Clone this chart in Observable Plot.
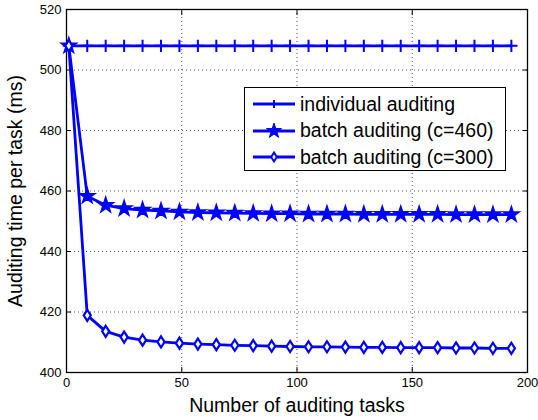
<!DOCTYPE html>
<html>
<head>
<meta charset="utf-8">
<script src="https://cdn.jsdelivr.net/npm/d3@7"></script>
<script src="https://cdn.jsdelivr.net/npm/@observablehq/plot@0.6"></script>
<style>
  body { margin: 0; background: #fff; font-family: "Liberation Sans", Arial, sans-serif; }
  #wrap { position: relative; width: 538px; height: 420px; }
  #legend { position: absolute; left: 244px; top: 87px; width: 262px; height: 84px; border: 1px solid #000; background: #fff; box-sizing: border-box; font-size: 19.5px; }
  #legend .row { position: absolute; left: 0; height: 26px; display: flex; align-items: center; white-space: nowrap; }
  #legend svg { margin-left: 8px; margin-right: 5px; }
</style>
</head>
<body>
<div id="wrap"></div>
<script>
const tasks = [1, 9, 17, 25, 33, 41, 49, 57, 65, 73, 81, 89, 97, 105, 113, 121, 129, 137, 145, 153, 161, 169, 177, 185, 193];
const individual = [508, 508, 508, 508, 508, 508, 508, 508, 508, 508, 508, 508, 508, 508, 508, 508, 508, 508, 508, 508, 508, 508, 508, 508, 508];
const batch460 = [508, 458.3, 455.3, 454.2, 453.7, 453.4, 453.1, 452.9, 452.8, 452.7, 452.6, 452.5, 452.5, 452.4, 452.4, 452.4, 452.3, 452.3, 452.3, 452.3, 452.3, 452.2, 452.2, 452.2, 452.2];
const batch300 = [508, 418.9, 413.6, 411.7, 410.7, 410.1, 409.7, 409.4, 409.2, 409.0, 408.9, 408.7, 408.6, 408.5, 408.5, 408.4, 408.3, 408.3, 408.2, 408.2, 408.2, 408.1, 408.1, 408.0, 408.0];
const seriesNames = ["individual auditing", "batch auditing (c=460)", "batch auditing (c=300)"];
const xTicks = [0, 50, 100, 150, 200];
const yTicks = [400, 420, 440, 460, 480, 500, 520];

const blue = "#0000ff";
const mk = (vals, name) => tasks.map((t, i) => ({x: t, y: vals[i], s: name}));
const d1 = mk(individual, seriesNames[0]);
const d2 = mk(batch460, seriesNames[1]);
const d3s = mk(batch300, seriesNames[2]);

// MATLAB-style tall diamond symbol
const tallDiamond = {
  draw(context, size) {
    const r = Math.sqrt(size) / 2;
    const w = r * 0.8, h = r * 1.25;
    context.moveTo(0, -h); context.lineTo(w, 0); context.lineTo(0, h); context.lineTo(-w, 0); context.closePath();
  }
};

const font = "Liberation Sans, Arial, sans-serif";
const lw = 2.8;
const chart = Plot.plot({
  width: 538, height: 420,
  marginLeft: 66, marginRight: 11, marginTop: 9, marginBottom: 48,
  style: {fontFamily: font, fontSize: "13px", color: "#000", background: "#fff"},
  x: {domain: [0, 200]},
  y: {domain: [400, 520]},
  marks: [
    Plot.gridX(xTicks.slice(1, -1), {stroke: "#000", strokeOpacity: 0.7, strokeDasharray: "1,3", strokeWidth: 1}),
    Plot.gridY(yTicks.slice(1, -1), {stroke: "#000", strokeOpacity: 0.7, strokeDasharray: "1,3", strokeWidth: 1}),
    Plot.axisX(xTicks, {anchor: "bottom", tickSize: 0, tickPadding: 5, fontSize: 13, label: null}),
    Plot.axisX(xTicks, {anchor: "bottom", tickSize: -5, tickFormat: () => "", fontSize: 19.5, label: "Number of auditing tasks", labelAnchor: "center", labelOffset: 39, labelArrow: "none"}),
    Plot.axisX(xTicks, {anchor: "top", tickSize: -5, tickFormat: () => "", label: null}),
    Plot.axisY(yTicks, {anchor: "left", tickSize: 0, tickPadding: 5, fontSize: 13, label: null}),
    Plot.axisY(yTicks, {anchor: "left", tickSize: -5, tickFormat: () => "", fontSize: 19.5, label: "Auditing time per task (ms)", labelAnchor: "center", labelOffset: 58, labelArrow: "none"}),
    Plot.axisY(yTicks, {anchor: "right", tickSize: -5, tickFormat: () => "", label: null}),
    Plot.frame({stroke: "#000", strokeWidth: 1.3}),
    Plot.line(d1, {x: "x", y: "y", stroke: blue, strokeWidth: lw}),
    Plot.dot(d1, {x: "x", y: "y", symbol: "plus", r: 4, stroke: blue, strokeWidth: 2}),
    Plot.line(d2, {x: "x", y: "y", stroke: blue, strokeWidth: lw}),
    Plot.dot(d2, {x: "x", y: "y", symbol: "star", r: 4.8, fill: blue, stroke: blue, strokeWidth: 1.5}),
    Plot.line(d3s, {x: "x", y: "y", stroke: blue, strokeWidth: lw}),
    Plot.dot(d3s, {x: "x", y: "y", symbol: tallDiamond, r: 5, fill: "#fff", stroke: blue, strokeWidth: 2.2})
  ]
});
const wrap = document.getElementById("wrap");
wrap.appendChild(chart);

// legend
const legend = document.createElement("div");
legend.id = "legend";
const symbols = ["plus", "star", "diamond"];
seriesNames.forEach((name, i) => {
  const row = document.createElement("div");
  row.className = "row";
  row.style.top = (3 + i * 26.7) + "px";
  const sw = d3.create("svg").attr("width", 42).attr("height", 20);
  sw.append("line").attr("x1", 0).attr("x2", 42).attr("y1", 10).attr("y2", 10).attr("stroke", blue).attr("stroke-width", lw);
  if (symbols[i] === "plus") {
    sw.append("path").attr("d", "M21,6V14M17,10H25").attr("stroke", blue).attr("stroke-width", 2);
  } else if (symbols[i] === "star") {
    sw.append("path").attr("transform", "translate(21,10)").attr("d", d3.symbol(d3.symbolStar, 70)()).attr("fill", blue).attr("stroke", blue);
  } else {
    sw.append("path").attr("transform", "translate(21,10)").attr("d", d3.symbol(tallDiamond, 50)()).attr("fill", "#fff").attr("stroke", blue).attr("stroke-width", 2);
  }
  row.appendChild(sw.node());
  const label = document.createElement("span");
  label.textContent = name;
  row.appendChild(label);
  legend.appendChild(row);
});
wrap.appendChild(legend);
</script>
</body>
</html>
